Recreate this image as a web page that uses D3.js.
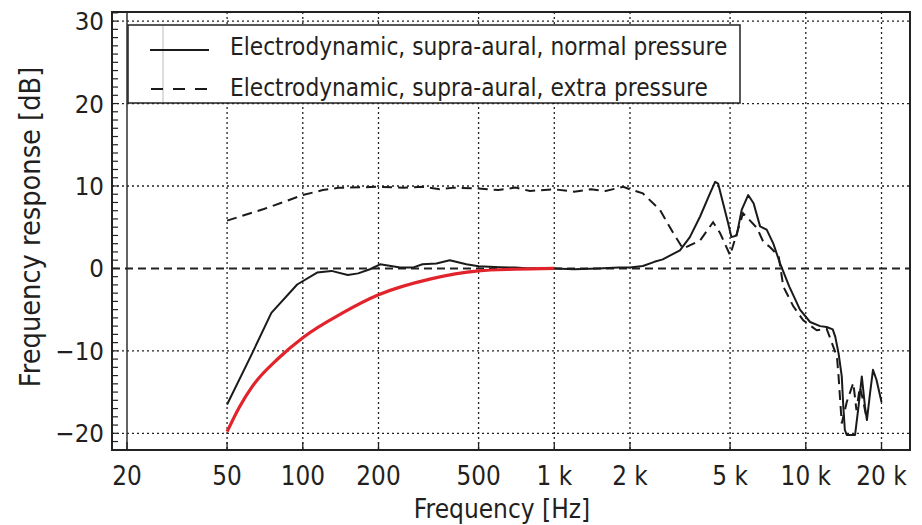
<!DOCTYPE html>
<html>
<head>
<meta charset="utf-8">
<script src="https://cdn.jsdelivr.net/npm/d3@7"></script>
<style>
  body { margin: 0; background: #fff; }
  svg text { font-family: "DejaVu Sans", sans-serif; fill: #231f20; }
</style>
</head>
<body>
<script>
// Frequency ticks and their labels
var xTicks = [20, 50, 100, 200, 500, 1000, 2000, 5000, 10000, 20000];
var xTickLabels = ["20", "50", "100", "200", "500", "1 k", "2 k", "5 k", "10 k", "20 k"];
var yTicks = [-20, -10, 0, 10, 20, 30];
var yTickLabels = ["\u221220", "\u221210", "0", "10", "20", "30"];

// Electrodynamic, supra-aural, normal pressure
var normalFreq = [50, 62, 75, 95, 114, 130, 151, 166, 185, 203, 244, 274, 299, 340, 384, 447, 500, 608, 700, 800,
  1000, 1200, 1500, 1800, 2000, 2250, 2500, 2700, 3160, 3460, 3800, 4160, 4360, 4480, 4690, 4910, 5060, 5310,
  5560, 5900, 6200, 6580, 6990, 7430, 7900, 8600, 9480, 10400, 11400, 12100, 12800, 13100, 13500, 13900,
  14100, 14300, 14550, 15700, 16200, 16700, 17200, 17500, 18000, 18500, 19100, 20000];
var normalDb = [-16.5, -10.7, -5.4, -1.95, -0.5, -0.3, -0.8, -0.6, -0.1, 0.5, 0.1, 0.1, 0.5, 0.6, 1.0, 0.5, 0.25, 0.15, 0.1, 0.0,
  0.0, -0.1, 0.0, 0.1, 0.1, 0.3, 0.8, 1.1, 2.2, 3.8, 6.3, 9.1, 10.5, 10.3, 7.9, 5.5, 3.8, 4.0,
  7.1, 8.9, 7.9, 5.1, 4.7, 3.0, 0.6, -2.2, -5.0, -6.5, -7.0, -7.1, -7.4, -8.3, -10.3, -13.1,
  -16.8, -19.6, -20.2, -20.2, -16.8, -13.1, -16.8, -18.4, -15.2, -12.3, -13.5, -16.2];

// Electrodynamic, supra-aural, extra pressure
var extraFreq = [50, 70, 100, 120, 140, 150, 200, 250, 300, 350, 400, 500, 600, 700, 800, 1000, 1200, 1400, 1600,
  1880, 2000, 2250, 2630, 2970, 3250, 3800, 4280, 4560, 5000, 5630, 6400, 6780, 7200, 7800, 8140, 8920,
  9770, 11050, 12100, 13300, 13500, 13700, 13900, 14550, 15450, 15900, 16400, 16900, 17500];
var extraDb = [5.8, 7.2, 8.9, 9.5, 9.8, 9.8, 9.9, 9.8, 9.9, 9.6, 9.8, 9.7, 9.5, 9.8, 9.4, 9.6, 9.3, 9.6, 9.4,
  9.9, 9.6, 9.1, 7.1, 4.3, 2.4, 3.4, 5.6, 4.3, 1.6, 6.7, 4.9, 3.2, 2.6, 1.5, -2.2, -4.6,
  -6.3, -7.5, -7.3, -10.7, -13.1, -16.0, -18.8, -16.2, -13.9, -17.2, -14.4, -16.0, -18.4];

// Red reference curve
var refFreq = [50, 56, 63, 80, 100, 144, 200, 320, 500, 700, 1000];
var refDb = [-19.8, -16.8, -14.3, -10.9, -8.4, -5.4, -3.2, -1.3, -0.3, -0.1, 0.0];

var width = 922, height = 525;
var frame = {left: 112, right: 910, top: 12, bottom: 450};

var x = d3.scaleLog().domain([20, 20000]).range([127, 881.5]);
var y = d3.scaleLinear().domain([-20, 30]).range([433.3, 21.1]);

var svg = d3.select("body").append("svg")
  .attr("width", width)
  .attr("height", height);

// Grid
var grid = svg.append("g");
grid.selectAll("line.vgrid")
  .data(xTicks)
  .enter().append("line")
  .attr("x1", function(d) { return x(d); })
  .attr("x2", function(d) { return x(d); })
  .attr("y1", frame.top)
  .attr("y2", frame.bottom)
  .attr("stroke", "#222")
  .attr("stroke-width", function(d) { return d == 20 ? 1.4 : 1.3; })
  .attr("stroke-dasharray", function(d) { return d == 20 ? null : "2,3"; });

grid.selectAll("line.hgrid")
  .data(yTicks)
  .enter().append("line")
  .attr("x1", frame.left)
  .attr("x2", frame.right)
  .attr("y1", function(d) { return y(d); })
  .attr("y2", function(d) { return y(d); })
  .attr("stroke", "#222")
  .attr("stroke-width", function(d) { return d == 0 ? 2 : 1.3; })
  .attr("stroke-dasharray", function(d) { return d == 0 ? "8,5" : "2,3"; });

// Minor y ticks every 1 dB
grid.selectAll("line.ytick")
  .data(d3.range(-22, 32, 1))
  .enter().append("line")
  .attr("x1", frame.left)
  .attr("x2", frame.left + 6)
  .attr("y1", function(d) { return y(d); })
  .attr("y2", function(d) { return y(d); })
  .attr("stroke", "#222")
  .attr("stroke-width", 1.2);

// Short x ticks at the bottom
grid.selectAll("line.xtick")
  .data(xTicks)
  .enter().append("line")
  .attr("x1", function(d) { return x(d); })
  .attr("x2", function(d) { return x(d); })
  .attr("y1", frame.bottom - 8)
  .attr("y2", frame.bottom)
  .attr("stroke", "#222")
  .attr("stroke-width", 1.3);

// Curves
var line = function(fs, dbs, curve) {
  return d3.line()
    .curve(curve || d3.curveLinear)
    .x(function(d, i) { return x(fs[i]); })
    .y(function(d, i) { return y(dbs[i]); })(fs);
};

svg.append("path")
  .attr("d", line(extraFreq, extraDb))
  .attr("fill", "none")
  .attr("stroke", "#1a1a1a")
  .attr("stroke-width", 2)
  .attr("stroke-dasharray", "10,6");

svg.append("path")
  .attr("d", line(normalFreq, normalDb))
  .attr("fill", "none")
  .attr("stroke", "#1a1a1a")
  .attr("stroke-width", 2)
  .attr("stroke-linejoin", "round");

svg.append("path")
  .attr("d", line(refFreq, refDb, d3.curveMonotoneX))
  .attr("fill", "none")
  .attr("stroke", "#e3232b")
  .attr("stroke-width", 3.2);

// Frame
svg.append("rect")
  .attr("x", frame.left)
  .attr("y", frame.top)
  .attr("width", frame.right - frame.left)
  .attr("height", frame.bottom - frame.top)
  .attr("fill", "none")
  .attr("stroke", "#222")
  .attr("stroke-width", 2);

// Legend
var legend = svg.append("g");
legend.append("rect")
  .attr("x", 128).attr("y", 25)
  .attr("width", 612).attr("height", 78)
  .attr("fill", "#fff")
  .attr("stroke", "#222")
  .attr("stroke-width", 1.5);
legend.append("line")
  .attr("x1", 163).attr("x2", 163).attr("y1", 26).attr("y2", 102)
  .attr("stroke", "#bbb").attr("stroke-width", 1);
legend.append("line")
  .attr("x1", 150).attr("x2", 209).attr("y1", 50).attr("y2", 50)
  .attr("stroke", "#1a1a1a").attr("stroke-width", 2);
legend.append("line")
  .attr("x1", 151).attr("x2", 211).attr("y1", 89).attr("y2", 89)
  .attr("stroke", "#1a1a1a").attr("stroke-width", 2)
  .attr("stroke-dasharray", "12,10");

// condensed-looking text: wider font squeezed horizontally
function ctext(g, px, py, size, sx, anchor, str) {
  return g.append("text")
    .attr("transform", "translate(" + px + "," + py + ") scale(" + sx + ",1)")
    .attr("text-anchor", anchor)
    .attr("font-size", size)
    .text(str);
}

ctext(legend, 230, 55, 25, 0.87, "start", "Electrodynamic, supra-aural, normal pressure");
ctext(legend, 230, 96, 25, 0.87, "start", "Electrodynamic, supra-aural, extra pressure");

// Tick labels
xTicks.forEach(function(d, i) {
  ctext(svg, x(d), 485, 27, 0.86, "middle", xTickLabels[i]);
});
yTicks.forEach(function(d, i) {
  ctext(svg, 104, y(d) + 9, 25, 0.92, "end", yTickLabels[i]);
});

// Axis titles
ctext(svg, 502, 518, 26, 0.9, "middle", "Frequency [Hz]");

svg.append("text")
  .attr("transform", "translate(40,227) rotate(-90) scale(0.92,1)")
  .attr("text-anchor", "middle")
  .attr("font-size", 28)
  .text("Frequency response [dB]");
</script>
</body>
</html>
